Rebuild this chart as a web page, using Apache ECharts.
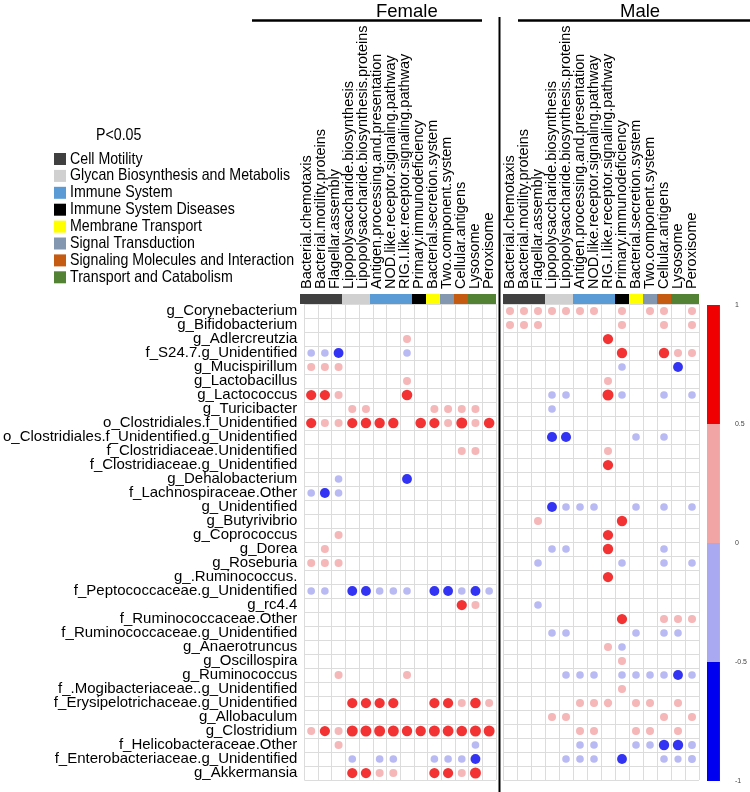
<!DOCTYPE html>
<html>
<head>
<meta charset="utf-8">
<script src="https://cdn.jsdelivr.net/npm/echarts@6/dist/echarts.min.js"></script>
<style>
html,body{margin:0;padding:0;background:#fff;}
#chart{width:750px;height:792px;}
</style>
</head>
<body>
<div id="chart"></div>
<script>
const columns = ['Bacterial.chemotaxis','Bacterial.motility.proteins','Flagellar.assembly','Lipopolysaccharide.biosynthesis','Lipopolysaccharide.biosynthesis.proteins','Antigen.processing.and.presentation','NOD.like.receptor.signaling.pathway','RIG.I.like.receptor.signaling.pathway','Primary.immunodeficiency','Bacterial.secretion.system','Two.component.system','Cellular.antigens','Lysosome','Peroxisome'];
const columnGroups = ['Cell Motility','Cell Motility','Cell Motility','Glycan Biosynthesis and Metabolism','Glycan Biosynthesis and Metabolism','Immune System','Immune System','Immune System','Immune System Diseases','Membrane Transport','Signal Transduction','Signaling Molecules and Interaction','Transport and Catabolism','Transport and Catabolism'];
const groupNames = ['Cell Motility','Glycan Biosynthesis and Metabolism','Immune System','Immune System Diseases','Membrane Transport','Signal Transduction','Signaling Molecules and Interaction','Transport and Catabolism'];
const groupColors = ['#404040','#d0d0d0','#5b9bd5','#000000','#ffff00','#8497b0','#c55a11','#548235'];
const rows = ['g_Corynebacterium','g_Bifidobacterium','g_Adlercreutzia','f_S24.7.g_Unidentified','g_Mucispirillum','g_Lactobacillus','g_Lactococcus','g_Turicibacter','o_Clostridiales.f_Unidentified','o_Clostridiales.f_Unidentified.g_Unidentified','f_Clostridiaceae.Unidentified','f_Clostridiaceae.g_Unidentified','g_Dehalobacterium','f_Lachnospiraceae.Other','g_Unidentified','g_Butyrivibrio','g_Coprococcus','g_Dorea','g_Roseburia','g_.Ruminococcus.','f_Peptococcaceae.g_Unidentified','g_rc4.4','f_Ruminococcaceae.Other','f_Ruminococcaceae.g_Unidentified','g_Anaerotruncus','g_Oscillospira','g_Ruminococcus','f_.Mogibacteriaceae..g_Unidentified','f_Erysipelotrichaceae.g_Unidentified','g_Allobaculum','g_Clostridium','f_Helicobacteraceae.Other','f_Enterobacteriaceae.g_Unidentified','g_Akkermansia'];

// correlation values (0 = not significant / no dot), one array per row, 14 columns
const femaleValues = [
 [0,0,0,0,0,0,0,0,0,0,0,0,0,0],
 [0,0,0,0,0,0,0,0,0,0,0,0,0,0],
 [0,0,0,0,0,0,0,0.4,0,0,0,0,0,0],
 [-0.35,-0.35,-0.65,0,0,0,0,-0.35,0,0,0,0,0,0],
 [0.4,0.4,0.4,0,0,0,0,0,0,0,0,0,0,0],
 [0,0,0,0,0,0,0,0.4,0,0,0,0,0,0],
 [0.7,0.7,0.4,0,0,0,0,0.75,0,0,0,0,0,0],
 [0,0,0,0.4,0.4,0,0,0,0,0.4,0.4,0.4,0.4,0],
 [0.7,0.4,0.4,0.7,0.72,0.72,0.72,0,0.75,0.7,0.4,0.8,0.4,0.75],
 [0,0,0,0,0,0,0,0,0,0,0,0,0,0],
 [0,0,0,0,0,0,0,0,0,0,0,0.4,0.4,0],
 [0,0,0,0,0,0,0,0,0,0,0,0,0,0],
 [0,0,-0.35,0,0,0,0,-0.65,0,0,0,0,0,0],
 [-0.35,-0.65,-0.35,0,0,0,0,0,0,0,0,0,0,0],
 [0,0,0,0,0,0,0,0,0,0,0,0,0,0],
 [0,0,0,0,0,0,0,0,0,0,0,0,0,0],
 [0,0,0.4,0,0,0,0,0,0,0,0,0,0,0],
 [0,0.4,0,0,0,0,0,0,0,0,0,0,0,0],
 [0.4,0.4,0.4,0,0,0,0,0,0,0,0,0,0,0],
 [0,0,0,0,0,0,0,0,0,0,0,0,0,0],
 [-0.35,-0.35,0,-0.65,-0.65,-0.35,-0.35,-0.35,0,-0.65,-0.65,-0.35,-0.65,-0.35],
 [0,0,0,0,0,0,0,0,0,0,0,0.7,0.4,0],
 [0,0,0,0,0,0,0,0,0,0,0,0,0,0],
 [0,0,0,0,0,0,0,0,0,0,0,0,0,0],
 [0,0,0,0,0,0,0,0,0,0,0,0,0,0],
 [0,0,0,0,0,0,0,0,0,0,0,0,0,0],
 [0,0,0.4,0,0,0,0,0.4,0,0,0,0,0,0],
 [0,0,0,0,0,0,0,0,0,0,0,0,0,0],
 [0,0,0,0.7,0.7,0.7,0.7,0,0,0.7,0.7,0.4,0.75,0.4],
 [0,0,0,0,0,0,0,0,0,0,0,0,0,0],
 [0.4,0.7,0.4,0.8,0.8,0.8,0.8,0.72,0.72,0.8,0.78,0.75,0.8,0.8],
 [0,0,0.4,0,0,0,0,0,0,0,0,0,-0.35,0],
 [0,0,0,-0.35,0,-0.35,-0.35,0,0,-0.35,-0.35,-0.35,-0.65,0],
 [0,0,0,0.7,0.7,0.4,0.4,0,0,0.7,0.7,0.4,0.8,0]
];
const maleValues = [
 [0.4,0.4,0.4,0.4,0.4,0.4,0.4,0,0.4,0,0.4,0.4,0,0.4],
 [0.4,0.4,0.4,0,0,0,0,0,0.42,0,0,0.4,0,0.4],
 [0,0,0,0,0,0,0,0.7,0,0,0,0,0,0],
 [0,0,0,0,0,0,0,0,0.72,0,0,0.72,0.4,0.4],
 [0,0,0,0,0,0,0,0,-0.35,0,0,0,-0.65,0],
 [0,0,0,0,0,0,0,0.4,0,0,0,0,0,0],
 [0,0,0,-0.35,-0.35,0,0,0.8,-0.35,0,0,-0.35,0,-0.35],
 [0,0,0,-0.35,0,0,0,0,0,0,0,0,0,0],
 [0,0,0,0,0,0,0,0,0,0,0,0,0,0],
 [0,0,0,-0.68,-0.68,0,0,0,0,-0.35,0,-0.35,0,0],
 [0,0,0,0,0,0,0,0.4,0,0,0,0,0,0],
 [0,0,0,0,0,0,0,0.7,0,0,0,0,0,0],
 [0,0,0,0,0,0,0,0,0,0,0,0,0,0],
 [0,0,0,0,0,0,0,0,0,0,0,0,0,0],
 [0,0,0,-0.65,-0.35,-0.35,-0.35,0,0,-0.35,0,-0.35,0,-0.35],
 [0,0,0.4,0,0,0,0,0,0.72,0,0,0,0,0],
 [0,0,0,0,0,0,0,0.7,0,0,0,0,0,0],
 [0,0,0,-0.35,-0.35,0,0,0.72,0,0,0,-0.35,0,0],
 [0,0,-0.35,0,0,0,0,0,-0.35,0,0,-0.35,0,-0.35],
 [0,0,0,0,0,0,0,0.7,0,0,0,0,0,0],
 [0,0,0,0,0,0,0,0,0,0,0,0,0,0],
 [0,0,-0.35,0,0,0,0,0,0,0,0,0,0,0],
 [0,0,0,0,0,0,0,0,0.7,0,0,0.4,0.4,0.4],
 [0,0,0,-0.35,-0.35,0,0,0,0,-0.35,0,-0.35,-0.35,0],
 [0,0,0,0,0,0,0,0.4,-0.35,0,0,0,0,0],
 [0,0,0,0,0,0,0,0,0.4,0,0,0,0,0],
 [0,0,0,0,-0.35,-0.35,-0.35,0,-0.35,-0.35,-0.35,-0.35,-0.65,-0.35],
 [0,0,0,0,0,0,0,0,0.4,0,0,0,0,0],
 [0,0,0,0,0,0.4,0.4,0.45,0,0.4,0.4,0,0.4,0],
 [0,0,0,0.4,0.4,0,0,0,0,0,0,0.4,0,0.4],
 [0,0,0,0,0,0.4,0.4,0,0,0.4,0.4,0,0.4,0],
 [0,0,0,0,0,-0.35,-0.35,0,0,-0.35,-0.35,-0.72,-0.72,-0.38],
 [0,0,0,0,-0.35,-0.35,-0.35,0,-0.65,0,0,-0.35,-0.3,-0.38],
 [0,0,0,0,0,0,0,0,0,0,0,0,0,0]
];
const colorbarTicks = [1, 0.5, 0, -0.5, -1];
const levelColors = {strongPos:'#f00000', pos:'#f2a5a5', neg:'#a8a9f0', strongNeg:'#0000f0'};

const FONT = "'Liberation Sans', Arial, sans-serif";

function toPoints(matrix) {
  const out = [];
  matrix.forEach((row, r) => row.forEach((v, c) => { if (v !== 0) out.push([c, r, v]); }));
  return out;
}
const gridLine = {show: true, interval: 0, lineStyle: {color: '#dcdcdc', width: 1}};

const GL = {female: 300, male: 503};
const cellW = 14, nCols = columns.length, nRows = rows.length;
const gridTop = 304;

function headerBarData() {
  return columns.map((c, i) => ({value: 1, itemStyle: {color: groupColors[groupNames.indexOf(columnGroups[i])]}}));
}

const LEG_SX = 0.86;
function legendText(text, x, y, width) {
  return {type: 'text', x: x, y: y, scaleX: LEG_SX,
    style: {text: text, fontSize: 16.5, fill: '#000', fontFamily: FONT, verticalAlign: 'middle',
      width: width / LEG_SX, overflow: 'truncate', ellipsis: ''}};
}

const option = {
  animation: false,
  backgroundColor: '#fff',
  textStyle: {fontFamily: FONT},
  grid: [
    {left: GL.female, top: gridTop - 10, width: cellW * nCols, height: 10},
    {left: GL.female, top: gridTop, width: cellW * nCols, height: cellW * nRows},
    {left: GL.male, top: gridTop - 10, width: cellW * nCols, height: 10},
    {left: GL.male, top: gridTop, width: cellW * nCols, height: cellW * nRows},
    {left: 707, top: 305, width: 15, height: 476}
  ],
  xAxis: [
    {gridIndex: 0, type: 'category', data: columns, position: 'top', axisLine: {show: false}, axisTick: {show: false},
     axisLabel: {rotate: 90, interval: 0, fontSize: 14.5, margin: 5, color: '#000', fontFamily: FONT}},
    {gridIndex: 1, type: 'category', data: columns, axisLabel: {show: false, interval: 0}, axisTick: {show: false},
     axisLine: {show: false}, splitLine: gridLine},
    {gridIndex: 2, type: 'category', data: columns, position: 'top', axisLine: {show: false}, axisTick: {show: false},
     axisLabel: {rotate: 90, interval: 0, fontSize: 14.5, margin: 5, color: '#000', fontFamily: FONT}},
    {gridIndex: 3, type: 'category', data: columns, axisLabel: {show: false, interval: 0}, axisTick: {show: false},
     axisLine: {show: false}, splitLine: gridLine},
    {gridIndex: 4, type: 'category', data: ['scale'], show: false}
  ],
  yAxis: [
    {gridIndex: 0, type: 'value', min: 0, max: 1, show: false},
    {gridIndex: 1, type: 'category', data: rows, inverse: true, axisTick: {show: false}, axisLine: {show: false},
     axisLabel: {interval: 0, fontSize: 15, margin: 7, color: '#000', fontFamily: FONT}, splitLine: gridLine},
    {gridIndex: 2, type: 'value', min: 0, max: 1, show: false},
    {gridIndex: 3, type: 'category', data: rows, inverse: true, axisTick: {show: false}, axisLine: {show: false},
     axisLabel: {show: false, interval: 0}, splitLine: gridLine},
    {gridIndex: 4, type: 'value', min: -1, max: 1, interval: 0.5, position: 'right', axisLine: {show: false},
     axisTick: {show: false}, splitLine: {show: false},
     axisLabel: {fontSize: 7, margin: 15, color: '#444', formatter: v => String(v)}}
  ],
  visualMap: {
    type: 'piecewise', show: false, dimension: 2, seriesIndex: [2, 3],
    pieces: [
      {gt: 0.5, color: levelColors.strongPos},
      {gt: 0, lte: 0.5, color: levelColors.pos},
      {gte: -0.5, lt: 0, color: levelColors.neg},
      {lt: -0.5, color: levelColors.strongNeg}
    ]
  },
  series: [
    {type: 'bar', xAxisIndex: 0, yAxisIndex: 0, data: headerBarData(), barWidth: '100%', silent: true},
    {type: 'bar', xAxisIndex: 2, yAxisIndex: 2, data: headerBarData(), barWidth: '100%', silent: true},
    {type: 'scatter', xAxisIndex: 1, yAxisIndex: 1, data: toPoints(femaleValues),
     symbolSize: d => 5 + Math.abs(d[2]) * 7.5},
    {type: 'scatter', xAxisIndex: 3, yAxisIndex: 3, data: toPoints(maleValues),
     symbolSize: d => 5 + Math.abs(d[2]) * 7.5},
    {type: 'bar', xAxisIndex: 4, yAxisIndex: 4, stack: 'cb', barWidth: '100%', data: [colorbarTicks[1] - colorbarTicks[2]], itemStyle: {color: levelColors.pos}, silent: true},
    {type: 'bar', xAxisIndex: 4, yAxisIndex: 4, stack: 'cb', barWidth: '100%', data: [colorbarTicks[0] - colorbarTicks[1]], itemStyle: {color: levelColors.strongPos}, silent: true},
    {type: 'bar', xAxisIndex: 4, yAxisIndex: 4, stack: 'cb', barWidth: '100%', data: [colorbarTicks[3] - colorbarTicks[2]], itemStyle: {color: levelColors.neg}, silent: true},
    {type: 'bar', xAxisIndex: 4, yAxisIndex: 4, stack: 'cb', barWidth: '100%', data: [colorbarTicks[4] - colorbarTicks[3]], itemStyle: {color: levelColors.strongNeg}, silent: true}
  ],
  graphic: [
    {type: 'text', left: 376, top: 2, style: {text: 'Female', fontSize: 18.5, fill: '#000', fontFamily: FONT, align: 'center'}},
    {type: 'text', left: 620, top: 2, style: {text: 'Male', fontSize: 18.5, fill: '#000', fontFamily: FONT, align: 'center'}},
    {type: 'line', shape: {x1: 252, y1: 20.5, x2: 482, y2: 20.5}, style: {stroke: '#000', lineWidth: 2.5}},
    {type: 'line', shape: {x1: 518, y1: 20.5, x2: 750, y2: 20.5}, style: {stroke: '#000', lineWidth: 2.5}},
    {type: 'line', shape: {x1: 499.5, y1: 17, x2: 499.5, y2: 792}, style: {stroke: '#000', lineWidth: 2}},
    legendText('P<0.05', 96, 135, 100)
  ].concat(groupNames.flatMap((g, i) => [
    {type: 'rect', shape: {x: 54, y: 153 + i * 16.9, width: 12, height: 12}, style: {fill: groupColors[i]}},
    legendText(g, 70, 159 + i * 16.9, 229)
  ]))
};

const chart = echarts.init(document.getElementById('chart'), null, {renderer: 'canvas'});
chart.setOption(option);
</script>
</body>
</html>
